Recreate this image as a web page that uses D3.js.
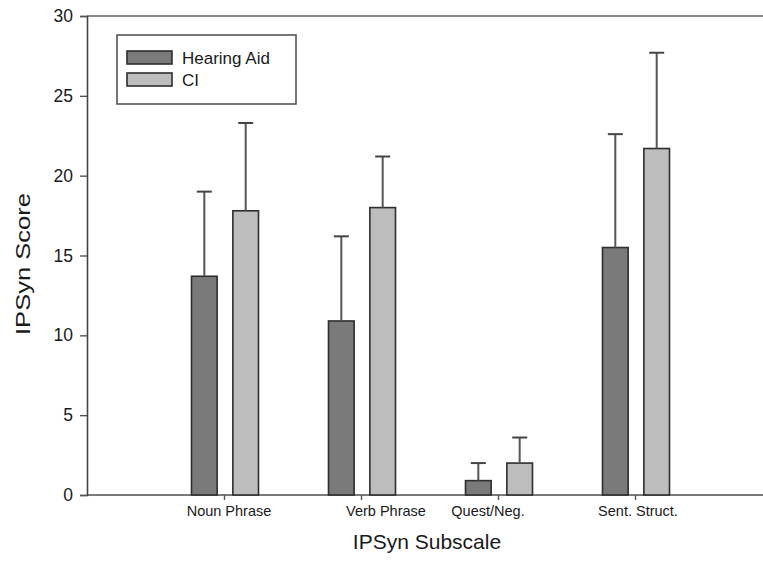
<!DOCTYPE html>
<html>
<head>
<meta charset="utf-8">
<script src="https://cdn.jsdelivr.net/npm/d3@7"></script>
<style>
  html, body { margin: 0; padding: 0; background: #fff; }
  svg { display: block; font-family: "Liberation Sans", Arial, sans-serif; }
</style>
</head>
<body>
<svg id="chart" width="763" height="562"></svg>
<script>
// IPSyn subscale scores by device group (mean and SD)
const categories = ["Noun Phrase", "Verb Phrase", "Quest/Neg.", "Sent. Struct."];
const seriesNames = ["Hearing Aid", "CI"];
const hearingAidMean = [13.7, 10.9, 0.9, 15.5];
const hearingAidSD   = [5.3, 5.3, 1.1, 7.1];
const ciMean = [17.8, 18.0, 2.0, 21.7];
const ciSD   = [5.5, 3.2, 1.6, 6.0];
const yTicks = [0, 5, 10, 15, 20, 25, 30];

const fills = { "Hearing Aid": "#7a7a7a", "CI": "#bdbdbd" };
const rows = categories.map((c, i) => ({
  category: c,
  pos: i + 1,
  bars: [
    { series: "Hearing Aid", mean: hearingAidMean[i], sd: hearingAidSD[i] },
    { series: "CI", mean: ciMean[i], sd: ciSD[i] }
  ]
}));

const svg = d3.select("#chart");
const x = d3.scaleLinear().domain([0, 5]).range([87, 772]);
const y = d3.scaleLinear().domain([0, 30]).range([495, 16]);
const xSub = d3.scaleBand().domain(seriesNames).range([-32.5, 34.5]).paddingInner(0.38);

// frame line along the top of the plot
svg.append("line")
  .attr("x1", x(0)).attr("x2", 763)
  .attr("y1", y(30)).attr("y2", y(30))
  .attr("stroke", "#8a8a8a").attr("stroke-width", 2);

// x axis baseline
svg.append("line")
  .attr("x1", x(0)).attr("x2", 763)
  .attr("y1", y(0)).attr("y2", y(0))
  .attr("stroke", "#7a7a7a").attr("stroke-width", 2);

// y axis
const yAxis = svg.append("g")
  .attr("transform", `translate(${x(0)},0)`)
  .call(d3.axisLeft(y).tickValues(yTicks).tickSize(7).tickPadding(7));
yAxis.select(".domain").attr("stroke", "#444").attr("stroke-width", 1.6);
yAxis.selectAll(".tick line").attr("stroke", "#555").attr("stroke-width", 1.4);
yAxis.selectAll(".tick text")
  .attr("fill", "#1a1a1a").style("font-size", "17.5px")
  .style("font-family", "'Liberation Sans', Arial, sans-serif");

// x axis ticks
const xAxis = svg.append("g")
  .attr("transform", `translate(0,${y(0)})`)
  .call(d3.axisBottom(x).tickValues(rows.map(d => d.pos)).tickSize(5).tickFormat(""));
xAxis.select(".domain").remove();
xAxis.selectAll(".tick line").attr("stroke", "#555").attr("stroke-width", 1.4);

// category labels (nudged sideways so neighbours do not collide)
const labelNudge = [5, 25, -10, 3];
svg.append("g").selectAll("text")
  .data(rows)
  .join("text")
  .attr("x", (d, i) => x(d.pos) + labelNudge[i])
  .attr("y", 516)
  .attr("text-anchor", "middle")
  .attr("fill", "#1a1a1a")
  .style("font-size", "14.5px")
  .text(d => d.category);

// bars
const groups = svg.append("g").selectAll("g")
  .data(rows)
  .join("g")
  .attr("transform", d => `translate(${x(d.pos)},0)`);

groups.selectAll("rect")
  .data(d => d.bars)
  .join("rect")
  .attr("x", d => xSub(d.series))
  .attr("width", xSub.bandwidth())
  .attr("y", d => y(d.mean))
  .attr("height", d => y(0) - y(d.mean))
  .attr("fill", d => fills[d.series])
  .attr("stroke", "#2e2e2e")
  .attr("stroke-width", 1.6);

// upper error bars (mean + SD)
const capHalf = 7.5;
groups.selectAll("line.err")
  .data(d => d.bars)
  .join("line")
  .attr("class", "err")
  .attr("x1", d => xSub(d.series) + xSub.bandwidth() / 2)
  .attr("x2", d => xSub(d.series) + xSub.bandwidth() / 2)
  .attr("y1", d => y(d.mean))
  .attr("y2", d => y(d.mean + d.sd))
  .attr("stroke", "#555").attr("stroke-width", 2);
groups.selectAll("line.cap")
  .data(d => d.bars)
  .join("line")
  .attr("class", "cap")
  .attr("x1", d => xSub(d.series) + xSub.bandwidth() / 2 - capHalf)
  .attr("x2", d => xSub(d.series) + xSub.bandwidth() / 2 + capHalf)
  .attr("y1", d => y(d.mean + d.sd))
  .attr("y2", d => y(d.mean + d.sd))
  .attr("stroke", "#444").attr("stroke-width", 2);

// axis titles
svg.append("text")
  .attr("x", 427).attr("y", 549)
  .attr("text-anchor", "middle")
  .attr("fill", "#1a1a1a")
  .style("font-size", "21px")
  .text("IPSyn Subscale");

svg.append("text")
  .attr("transform", "translate(30,264) rotate(-90)")
  .attr("text-anchor", "middle")
  .attr("fill", "#1a1a1a")
  .style("font-size", "20px")
  .attr("textLength", 142)
  .attr("lengthAdjust", "spacingAndGlyphs")
  .text("IPSyn Score");

// legend
const legend = svg.append("g");
legend.append("rect")
  .attr("x", 117).attr("y", 35).attr("width", 179).attr("height", 69)
  .attr("fill", "#fff").attr("stroke", "#555").attr("stroke-width", 1.6);
const items = legend.selectAll("g.item")
  .data(seriesNames)
  .join("g")
  .attr("class", "item")
  .attr("transform", (d, i) => `translate(127,${51 + i * 22})`);
items.append("rect")
  .attr("width", 45).attr("height", 13)
  .attr("fill", d => fills[d])
  .attr("stroke", "#2e2e2e").attr("stroke-width", 1.6);
items.append("text")
  .attr("x", 55).attr("y", 13)
  .attr("fill", "#1a1a1a")
  .style("font-size", "17px")
  .text(d => d);
</script>
</body>
</html>
